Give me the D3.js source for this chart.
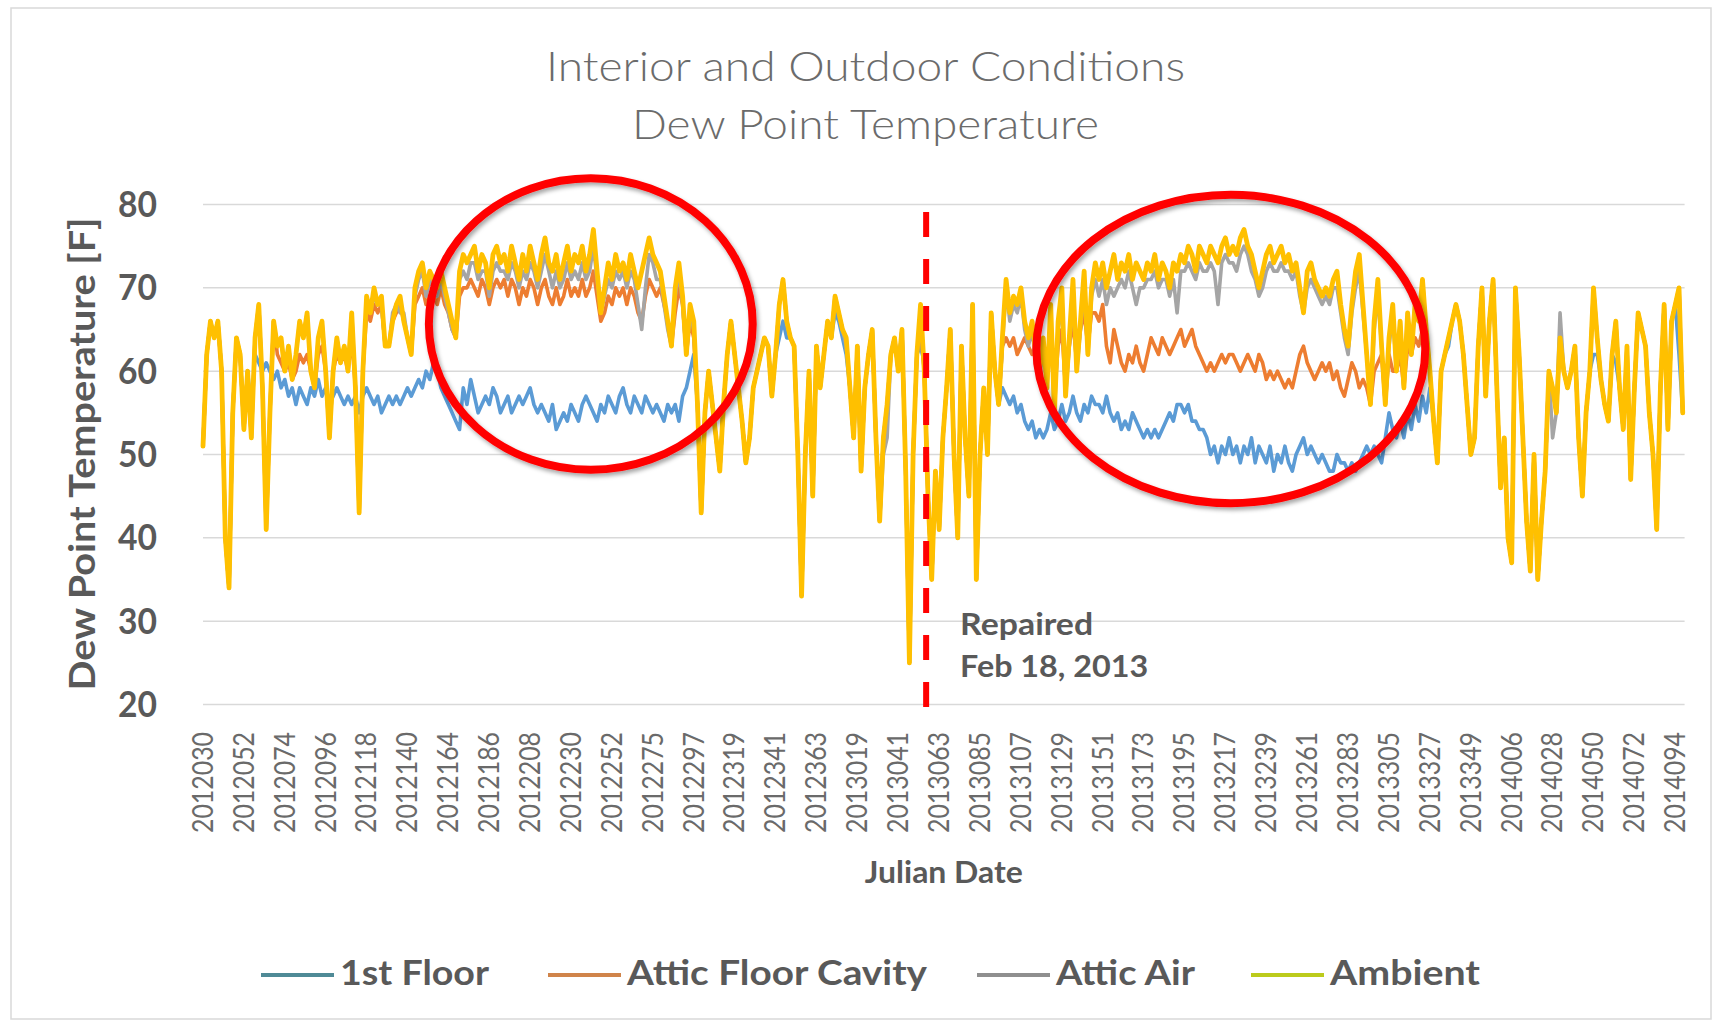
<!DOCTYPE html>
<html><head><meta charset="utf-8">
<script src="https://cdn.jsdelivr.net/npm/d3@7"></script>
<style>html,body{margin:0;padding:0;background:#fff;} svg{display:block;font-family:Lato,'Open Sans',sans-serif;}</style>
</head><body><svg id="chart" width="1723" height="1028"></svg>
<script>
const titleLines = ["Interior and Outdoor Conditions", "Dew Point Temperature"];
const yAxisTitle = "Dew Point Temperature [F]";
const xAxisTitle = "Julian Date";
const yTicks = [20, 30, 40, 50, 60, 70, 80];
const xTickLabels = ["2012030","2012052","2012074","2012096","2012118","2012140","2012164","2012186","2012208","2012230","2012252","2012275","2012297","2012319","2012341","2012363","2013019","2013041","2013063","2013085","2013107","2013129","2013151","2013173","2013195","2013217","2013239","2013261","2013283","2013305","2013327","2013349","2014006","2014028","2014050","2014072","2014094"];
const tickEvery = 22;      // one label every 22 daily records
const dayStep = 2;         // values below are read every 2nd record
const seriesNames = ["1st Floor", "Attic Floor Cavity", "Attic Air", "Ambient"];

const firstFloor = [
51,62,66,64,66,60,40,34,55,64,
62,53,60,55,62,61,60,61,60,59,
60,58,59,57,58,56,58,57,56,58,
57,59,57,58,56,57,58,57,56,57,
56,57,55,57,58,57,56,57,55,56,
57,56,57,56,57,58,57,58,59,58,
60,59,61,60,58,57,56,55,54,53,
58,56,59,57,55,56,57,56,58,57,
55,56,57,55,56,57,56,57,58,56,
55,56,55,54,56,53,54,55,54,56,
55,54,56,57,56,55,54,56,55,57,
56,55,57,58,56,55,57,56,55,57,
56,55,56,55,54,56,55,56,54,57,
58,60,62,56,43,55,60,56,52,48,
56,62,66,62,58,54,49,52,58,60,
62,64,63,57,62,64,66,64,64,63,
50,33,50,60,45,63,58,62,66,64,
67,66,64,62,58,52,63,48,58,62,
65,52,42,52,56,62,64,60,65,48,
25,50,62,63,61,45,35,48,41,52,
58,65,50,40,63,52,45,68,35,50,
58,50,67,60,56,58,57,56,57,55,
56,54,53,54,52,53,52,53,55,53,
54,56,54,55,57,55,54,56,55,57,
56,56,55,57,55,54,55,53,54,53,
55,54,53,52,53,52,53,52,53,54,
55,54,56,56,55,56,54,54,53,53,
52,50,51,49,51,50,52,50,51,49,
51,50,52,49,51,50,49,51,48,50,
49,51,49,48,50,51,52,50,51,50,
49,50,49,48,48,50,49,49,48,49,
48,49,50,51,50,51,50,49,52,55,
53,52,54,52,55,53,56,54,57,55,
58,54,49,60,62,63,66,68,66,62,
56,50,52,63,70,57,66,71,58,46,
52,40,37,70,62,52,42,36,50,35,
42,48,60,58,55,64,60,58,60,63,
52,45,55,60,62,62,59,56,54,62,
61,58,53,61,47,58,67,65,63,55,
50,41,58,68,53,66,68,62,55
];

const atticFloorCavity = [
51,62,66,64,66,60,40,34,55,64,
62,53,60,52,64,68,58,41,55,66,
62,61,60,61,59,60,62,61,62,60,
58,62,63,60,52,60,62,61,62,60,
64,58,43,60,67,66,68,67,68,63,
63,66,67,68,66,64,62,68,69,70,
68,69,69,68,70,68,67,65,64,69,
70,70,71,70,69,71,70,68,70,71,
70,71,69,71,70,68,70,69,71,70,
68,70,71,69,68,70,68,69,71,69,
70,69,71,69,70,72,69,66,67,69,
68,70,69,70,68,70,69,67,66,69,
71,70,69,70,68,66,63,67,70,68,
62,66,64,56,43,55,60,56,52,48,
56,62,66,62,58,54,49,52,58,60,
62,64,63,57,62,68,71,66,64,63,
50,33,50,60,45,63,58,62,66,64,
69,67,65,64,58,52,63,48,58,62,
65,52,42,52,56,62,64,60,65,48,
25,50,62,65,60,45,35,48,41,52,
58,65,50,40,63,52,45,68,35,50,
58,50,67,60,56,63,64,63,64,62,
63,64,63,62,63,60,63,60,64,57,
63,65,58,63,66,61,65,67,63,67,
67,66,68,63,61,65,63,61,60,62,
61,63,61,60,62,64,63,62,64,63,
62,63,64,65,63,64,65,63,62,61,
60,61,60,61,62,61,62,62,61,60,
61,62,61,60,62,61,59,60,59,60,
59,58,59,58,60,62,63,61,60,59,
60,61,60,61,59,60,58,57,59,61,
60,58,59,58,56,60,61,62,56,62,
60,60,62,58,63,62,64,63,65,63,
60,54,49,60,62,64,66,68,66,62,
56,50,52,63,70,57,66,71,58,46,
52,40,37,70,62,52,42,36,50,35,
42,48,60,58,55,64,60,58,60,63,
52,45,55,60,70,64,59,56,54,62,
66,58,53,63,47,58,67,65,63,55,
50,41,58,68,53,66,68,70,55
];

const atticAir = [
51,62,66,64,66,60,40,34,55,64,
62,53,60,52,64,68,58,41,55,66,
63,64,60,63,59,62,66,64,67,60,
58,64,66,60,52,60,64,61,63,60,
67,58,43,60,68,67,69,68,68,63,
63,67,68,67,67,64,62,69,71,72,
69,71,70,69,71,69,67,65,64,71,
72,71,73,73,71,72,72,69,72,73,
72,72,71,73,72,70,72,71,73,72,
70,72,74,72,70,72,70,71,73,71,
72,71,73,71,72,75,71,67,69,71,
70,72,71,72,70,72,71,68,65,70,
74,73,71,71,68,65,63,69,72,68,
62,67,65,56,43,55,60,56,52,48,
56,62,66,62,58,54,49,52,58,60,
62,64,63,57,62,68,71,66,64,63,
50,33,50,60,45,63,58,62,66,64,
69,67,65,63,58,52,63,48,58,62,
65,52,42,50,52,62,64,60,65,48,
25,50,62,66,60,45,35,48,41,52,
58,65,50,40,63,52,45,68,35,50,
58,50,67,60,56,63,70,66,68,67,
69,65,63,65,61,59,63,58,66,55,
65,68,57,63,69,60,65,70,62,69,
71,69,71,68,70,69,70,71,70,72,
70,68,70,70,71,71,72,70,71,71,
69,71,67,72,72,73,72,71,73,72,
72,73,72,68,73,74,73,73,72,74,
75,74,72,71,69,70,72,73,72,72,
73,72,72,71,72,69,67,70,71,70,
69,68,69,68,70,70,67,64,62,67,
70,72,67,62,56,65,69,63,56,63,
67,60,66,58,67,62,68,66,71,65,
60,54,49,60,62,64,66,68,66,62,
56,50,52,63,70,57,66,71,58,46,
52,40,37,70,62,52,42,36,50,35,
42,48,60,52,55,67,60,58,60,63,
52,45,55,60,70,64,59,56,54,62,
66,58,53,63,47,58,67,65,63,55,
50,41,58,68,53,66,68,70,55
];

const ambient = [
51,62,66,64,66,60,40,34,55,64,
62,53,60,52,64,68,58,41,55,66,
63,64,60,63,59,62,66,64,67,60,
58,64,66,60,52,60,64,61,63,60,
67,58,43,60,69,67,70,68,69,63,
63,66,68,69,66,64,62,70,72,73,
70,72,71,70,72,70,68,66,64,72,
74,73,74,75,72,74,73,70,74,75,
73,74,72,75,73,71,74,72,75,73,
71,74,76,73,72,74,71,73,75,72,
74,73,75,72,74,77,72,67,70,73,
71,74,72,73,71,74,72,70,72,74,
76,74,73,72,69,66,63,70,73,69,
62,68,66,56,43,55,60,56,52,48,
56,62,66,62,58,54,49,52,58,60,
62,64,63,57,62,68,71,66,64,63,
50,33,50,60,45,63,58,62,66,64,
69,67,65,64,58,52,63,48,58,62,
65,52,42,52,56,62,64,60,65,48,
25,50,62,68,60,45,35,48,41,52,
58,65,50,40,63,52,45,68,35,50,
58,50,67,60,56,64,71,67,69,68,
70,66,64,66,62,60,64,58,68,55,
66,70,57,64,71,60,66,72,62,70,
73,71,73,70,72,74,71,73,72,74,
71,73,72,71,73,72,74,71,73,72,
70,73,72,74,73,75,74,72,75,74,
73,75,74,73,75,76,74,75,74,76,
77,75,74,72,70,72,74,75,73,74,
75,73,74,72,73,70,67,72,73,71,
70,69,70,69,71,72,68,65,63,68,
72,74,68,62,56,66,71,63,56,64,
68,60,66,58,67,62,68,66,71,65,
60,54,49,60,62,64,66,68,66,62,
56,50,52,63,70,57,66,71,58,46,
52,40,37,70,62,52,42,36,50,35,
42,48,60,58,55,64,60,58,60,63,
52,45,55,60,70,64,59,56,54,62,
66,58,53,63,47,58,67,65,63,55,
50,41,58,68,53,66,68,70,55
];

// annotations in data units (record index, °F)
const repairRecord = 389;
const repairLabel = ["Repaired", "Feb 18, 2013"];
const highlightEllipses = [
  {cx: 208.6, cy: 65.66, rx: 87.1, ry: 17.5},
  {cx: 552.9, cy: 62.66, rx: 104.6, ry: 18.5}
];

// ---------- styles ----------
const seriesColors = ["#5B9BD5", "#ED7D31", "#A5A5A5", "#FFC000"];
const seriesWidths = [3.6, 3.6, 3.6, 4.8];
const legendColors = ["#4f8a96", "#d0844a", "#8f8f8f", "#bccb1c"];
const textColor = "#595959";

const svg = d3.select("#chart");
const W = 1723, H = 1028;
const plot = {left: 203, right: 1684.6, top: 204.5, bottom: 704.5};

svg.append("rect").attr("x", 0).attr("y", 0).attr("width", W).attr("height", H).attr("fill", "#fff");
svg.append("rect").attr("x", 11).attr("y", 8).attr("width", 1700).attr("height", 1011)
  .attr("fill", "#fff").attr("stroke", "#d9d9d9").attr("stroke-width", 1.5);

const defs = svg.append("defs");
const f = defs.append("filter").attr("id", "shadow").attr("x", "-10%").attr("y", "-10%").attr("width", "120%").attr("height", "120%");
f.append("feDropShadow").attr("dx", 2).attr("dy", 3).attr("stdDeviation", 2).attr("flood-color", "#000").attr("flood-opacity", 0.35);

const nRecords = 797;
const x = d3.scaleLinear().domain([0, nRecords]).range([plot.left, plot.right]);
const y = d3.scaleLinear().domain([20, 80]).range([plot.bottom, plot.top]);

// gridlines
svg.append("g").selectAll("line").data(yTicks).join("line")
  .attr("x1", plot.left).attr("x2", plot.right)
  .attr("y1", d => y(d)).attr("y2", d => y(d))
  .attr("stroke", "#d9d9d9").attr("stroke-width", 1.5);

// y tick labels
svg.append("g").selectAll("text").data(yTicks).join("text")
  .attr("x", 157).attr("y", d => y(d)).attr("dy", "0.35em")
  .attr("text-anchor", "end").attr("font-size", 36).attr("font-weight", 700)
  .attr("fill", textColor).attr("textLength", 39).attr("lengthAdjust", "spacingAndGlyphs")
  .text(d => d);

// x tick labels
svg.append("g").selectAll("text").data(xTickLabels).join("text")
  .attr("transform", (d, i) => `translate(${x(i * tickEvery)},732) rotate(-90)`)
  .attr("text-anchor", "end").attr("dy", "0.35em")
  .attr("font-size", 28).attr("fill", "#6a6a6a")
  .attr("textLength", 101).attr("lengthAdjust", "spacingAndGlyphs")
  .text(d => d);

// series lines
const allSeries = [firstFloor, atticFloorCavity, atticAir, ambient];
const line = d3.line().x((d, i) => x(i * dayStep)).y(d => y(d));
svg.append("g").selectAll("path").data(allSeries).join("path")
  .attr("d", d => line(d)).attr("fill", "none")
  .attr("stroke", (d, i) => seriesColors[i]).attr("stroke-width", (d, i) => seriesWidths[i])
  .attr("stroke-linejoin", "round").attr("stroke-linecap", "round");

// titles
const titleSizes = [{y: 81, len: 639}, {y: 139, len: 467}];
svg.append("g").selectAll("text").data(titleLines).join("text")
  .attr("x", 865.5).attr("y", (d, i) => titleSizes[i].y)
  .attr("text-anchor", "middle").attr("font-size", 42).attr("font-weight", 300)
  .attr("fill", "#6b6b6b").attr("textLength", (d, i) => titleSizes[i].len).attr("lengthAdjust", "spacingAndGlyphs")
  .text(d => d);

svg.append("text").attr("transform", "translate(95,454) rotate(-90)")
  .attr("text-anchor", "middle").attr("font-size", 36).attr("font-weight", 700)
  .attr("fill", textColor).attr("textLength", 473).attr("lengthAdjust", "spacingAndGlyphs")
  .text(yAxisTitle);

svg.append("text").attr("x", (plot.left + plot.right) / 2).attr("y", 883)
  .attr("text-anchor", "middle").attr("font-size", 31).attr("font-weight", 700)
  .attr("fill", textColor).attr("textLength", 158).attr("lengthAdjust", "spacingAndGlyphs")
  .text(xAxisTitle);

// repair dashed line + label
svg.append("line")
  .attr("x1", x(repairRecord)).attr("x2", x(repairRecord))
  .attr("y1", y(79.1)).attr("y2", y(19.6))
  .attr("stroke", "#FF0000").attr("stroke-width", 6).attr("stroke-dasharray", "25 22");
const repairText = [{v: 28.3, len: 133}, {v: 23.3, len: 188}];
svg.append("g").selectAll("text").data(repairLabel).join("text")
  .attr("x", x(repairRecord) + 34).attr("y", (d, i) => y(repairText[i].v))
  .attr("font-size", 30).attr("font-weight", 700).attr("fill", textColor)
  .attr("textLength", (d, i) => repairText[i].len).attr("lengthAdjust", "spacingAndGlyphs")
  .text(d => d);

// highlight ellipses
svg.append("g").selectAll("ellipse").data(highlightEllipses).join("ellipse")
  .attr("cx", d => x(d.cx)).attr("cy", d => y(d.cy))
  .attr("rx", d => x(d.cx + d.rx) - x(d.cx)).attr("ry", d => y(d.cy - d.ry) - y(d.cy))
  .attr("fill", "none").attr("stroke", "#FF0000").attr("stroke-width", 8)
  .attr("filter", "url(#shadow)");

// legend
const legendLayout = [
  {lx: 261, tw: 149}, {lx: 548, tw: 300}, {lx: 977, tw: 139}, {lx: 1251, tw: 150}
];
const lg = svg.append("g").selectAll("g").data(seriesNames).join("g");
lg.append("line")
  .attr("x1", (d, i) => legendLayout[i].lx).attr("x2", (d, i) => legendLayout[i].lx + 73)
  .attr("y1", 975).attr("y2", 975)
  .attr("stroke", (d, i) => legendColors[i]).attr("stroke-width", 4);
lg.append("text")
  .attr("x", (d, i) => legendLayout[i].lx + 79).attr("y", 985)
  .attr("font-size", 35).attr("font-weight", 700).attr("fill", textColor)
  .attr("textLength", (d, i) => legendLayout[i].tw).attr("lengthAdjust", "spacingAndGlyphs")
  .text(d => d);
</script></body></html>
